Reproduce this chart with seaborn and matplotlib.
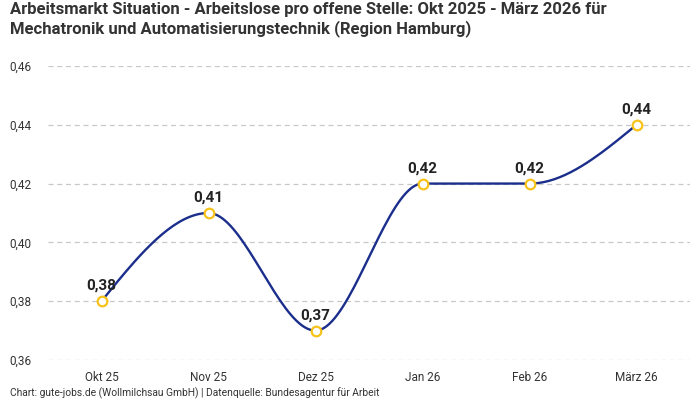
import numpy as np
import pandas as pd
import matplotlib
matplotlib.use("Agg")
import matplotlib.pyplot as plt
import seaborn as sns

categories = ["Okt 25", "Nov 25", "Dez 25", "Jan 26", "Feb 26", "März 26"]
values = [0.38, 0.41, 0.37, 0.42, 0.42, 0.44]
y_ticks = [0.36, 0.38, 0.40, 0.42, 0.44, 0.46]

title = ("Arbeitsmarkt Situation - Arbeitslose pro offene Stelle: Okt 2025 - März 2026 für\n"
         "Mechatronik und Automatisierungstechnik (Region Hamburg)")
footer = "Chart: gute-jobs.de (Wollmilchsau GmbH) | Datenquelle: Bundesagentur für Arbeit"

LINE = "#1b2e8c"
MARK = "#f7c21a"

sns.set_theme(style="white")
plt.rcParams["font.family"] = ["Roboto", "DejaVu Sans"]

df = pd.DataFrame({"x": np.arange(len(categories)), "cat": categories, "y": values})


def monotone_path(x, y, n=40):
    # monotone cubic (d3 curveMonotoneX style) rendering of the line
    x = np.asarray(x, float)
    y = np.asarray(y, float)
    h = np.diff(x)
    s = np.diff(y) / h
    t = np.zeros_like(y)
    for i in range(1, len(y) - 1):
        s0, s1 = s[i - 1], s[i]
        p = (s0 * h[i] + s1 * h[i - 1]) / (h[i - 1] + h[i])
        t[i] = (np.sign(s0) + np.sign(s1)) * min(abs(s0), abs(s1), 0.5 * abs(p))
    t[0] = (3 * s[0] - t[1]) / 2
    t[-1] = (3 * s[-1] - t[-2]) / 2
    xs, ys = [], []
    for i in range(len(y) - 1):
        u = np.linspace(0, 1, n)
        h00 = 2 * u**3 - 3 * u**2 + 1
        h10 = u**3 - 2 * u**2 + u
        h01 = -2 * u**3 + 3 * u**2
        h11 = u**3 - u**2
        xs.append(x[i] + u * h[i])
        ys.append(h00 * y[i] + h10 * h[i] * t[i] + h01 * y[i + 1] + h11 * h[i] * t[i + 1])
    return np.concatenate(xs), np.concatenate(ys)


fig = plt.figure(figsize=(7, 4), dpi=100)
ax = fig.add_axes([48 / 700, 0.1, 642 / 700, 0.735])

sx, sy = monotone_path(df["x"], df["y"])
sns.lineplot(x=sx, y=sy, ax=ax, color=LINE, linewidth=1.7, sort=False, zorder=3)
sns.scatterplot(data=df, x="x", y="y", ax=ax, s=48, facecolor="white",
                edgecolor=MARK, linewidth=1.6, zorder=4, clip_on=False)

for xi, yi in zip(df["x"], df["y"]):
    ax.annotate(f"{yi:.2f}".replace(".", ","), (xi, yi), xytext=(0, 6),
                textcoords="offset points", ha="center", va="bottom",
                fontsize=11, fontweight="bold", color="#222222", zorder=5)

ax.set_xlim(-0.5, len(categories) - 0.5)
ax.set_ylim(0.36, 0.46)
ax.set_xticks(df["x"])
ax.set_xticklabels(categories)
ax.set_yticks(y_ticks)
ax.set_yticklabels([f"{v:.2f}".replace(".", ",") for v in y_ticks])
ax.set_xlabel("")
ax.set_ylabel("")
ax.tick_params(axis="both", length=0, labelsize=8.5, colors="#333333")
ax.tick_params(axis="y", pad=12)
ax.tick_params(axis="x", pad=8)
ax.grid(axis="y", color="#c8c8c8", linestyle=(0, (4, 3)), linewidth=0.9)
ax.grid(axis="x", visible=False)
for sp in ax.spines.values():
    sp.set_visible(False)

fig.text(10 / 700, 1 - 2 / 400, title, ha="left", va="top", fontsize=12,
         fontweight="bold", color="#333333", linespacing=1.2)
fig.text(10 / 700, 1 - 393 / 400, footer, ha="left", va="center", fontsize=7.4, color="#333333")

fig.savefig("out.png", dpi=100, facecolor="white")
